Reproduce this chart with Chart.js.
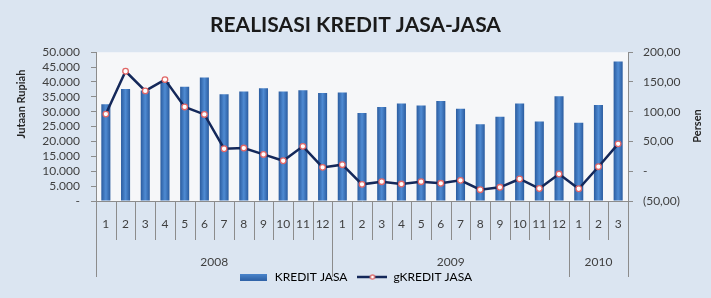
<!DOCTYPE html>
<html lang="id">
<head>
<meta charset="UTF-8">
<title>Realisasi Kredit Jasa-Jasa</title>
<script src="https://cdn.jsdelivr.net/npm/chart.js"></script>
<style>
  body { margin: 0; background: #dbe5f1; }
  canvas { display: block; }
</style>
</head>
<body>
<canvas id="grafik" width="711" height="298"></canvas>
<script>
  // data (perkiraan)
  const bulan = ['1','2','3','4','5','6','7','8','9','10','11','12',
                 '1','2','3','4','5','6','7','8','9','10','11','12',
                 '1','2','3'];
  const tahun = ['2008', '2009', '2010'];
  const jumlahBulan = [12, 12, 3];
  const kreditJasa = [32500, 37600, 37100, 40000, 38400, 41500, 35900, 36800, 37900, 36800, 37200, 36300,
                      36500, 29600, 31600, 32800, 32100, 33600, 31000, 25800, 28300, 32800, 26700, 35200,
                      26300, 32300, 46900];
  const gKreditJasa = [96, 168, 135, 154, 108, 95.5, 37.8, 39, 28.3, 17.6, 41.8, 6.5,
                       11, -22, -17.6, -21.5, -17.6, -20.3, -15.3, -31, -27, -13, -29, -4.7,
                       -29.4, 7.6, 46];

  const abu = '#8c8c8c';
  const teks = '#3f3f3f';

  function ribuan(v) {
    if (v === 0) return '-';
    return String(v).replace(/\B(?=(\d{3})+(?!\d))/g, '.');
  }
  function persen(v) {
    if (v === 0) return '-';
    const s = Math.abs(v).toFixed(2).replace('.', ',');
    return v < 0 ? '(' + s + ')' : s;
  }

  function ikonBatang() {
    const c = document.createElement('canvas');
    c.width = 27; c.height = 7;
    const g = c.getContext('2d');
    const gr = g.createLinearGradient(0, 0, 0, 7);
    gr.addColorStop(0, '#4d88cf');
    gr.addColorStop(1, '#2f62a6');
    g.fillStyle = gr;
    g.fillRect(0, 0, 27, 7);
    return c;
  }
  function ikonGaris() {
    const c = document.createElement('canvas');
    c.width = 30; c.height = 8;
    const g = c.getContext('2d');
    g.strokeStyle = '#14285a'; g.lineWidth = 2.5;
    g.beginPath(); g.moveTo(0, 4); g.lineTo(30, 4); g.stroke();
    g.fillStyle = '#ffffff'; g.strokeStyle = '#e06666'; g.lineWidth = 1.2;
    g.beginPath(); g.arc(15, 4, 2.2, 0, Math.PI * 2); g.fill(); g.stroke();
    return c;
  }

  // latar, sumbu x bertingkat (bulan / tahun) dan judul sumbu
  const sumbuBertingkat = {
    id: 'sumbuBertingkat',
    beforeDraw(chart) {
      const {ctx, chartArea: a} = chart;
      ctx.save();
      ctx.fillStyle = '#dbe5f1';
      ctx.fillRect(0, 0, chart.width, chart.height);
      ctx.fillStyle = '#f6f7f9';
      ctx.fillRect(a.left, a.top, a.right - a.left, a.bottom - a.top);
      ctx.restore();
    },
    afterDraw(chart) {
      const {ctx, chartArea: a, scales: {x}} = chart;
      const batas = [0];
      jumlahBulan.reduce((s, n) => { batas.push(s + n); return s + n; }, 0);

      ctx.save();
      ctx.strokeStyle = abu;
      ctx.lineWidth = 1;
      for (let i = 0; i <= bulan.length; i++) {
        const px = Math.round(x.getPixelForValue(i - 0.5)) + 0.5;
        const bawah = batas.includes(i) ? a.bottom + 76 : a.bottom + 39;
        ctx.beginPath();
        ctx.moveTo(px, a.bottom);
        ctx.lineTo(px, bawah);
        ctx.stroke();
      }

      ctx.font = '12px Lato';
      ctx.fillStyle = teks;
      ctx.textAlign = 'center';
      ctx.textBaseline = 'middle';
      bulan.forEach((b, i) => ctx.fillText(b, x.getPixelForValue(i), a.bottom + 23));
      tahun.forEach((t, k) => {
        const kiri = x.getPixelForValue(batas[k] - 0.5);
        const kanan = x.getPixelForValue(batas[k + 1] - 0.5);
        ctx.fillText(t, (kiri + kanan) / 2, a.bottom + 61);
      });

      ctx.font = 'bold 11px Lato';
      ctx.fillStyle = '#262626';
      ctx.translate(21, 104);
      ctx.rotate(-Math.PI / 2);
      ctx.fillText('Jutaan Rupiah', 0, 0);
      ctx.setTransform(1, 0, 0, 1, 0, 0);
      ctx.translate(697, 126);
      ctx.rotate(-Math.PI / 2);
      ctx.fillText('Persen', 0, 0);
      ctx.restore();
    }
  };

  const ctx = document.getElementById('grafik').getContext('2d');

  new Chart(ctx, {
    type: 'bar',
    data: {
      labels: bulan,
      datasets: [{
        type: 'bar',
        label: 'KREDIT JASA',
        data: kreditJasa,
        yAxisID: 'y',
        order: 1,
        barPercentage: 0.46,
        categoryPercentage: 1,
        backgroundColor: (c) => {
          const sx = c.chart.scales.x;
          if (!sx || c.dataIndex == null) return '#3b74bb';
          const cx = sx.getPixelForValue(c.dataIndex);
          const g = c.chart.ctx.createLinearGradient(cx - 4.5, 0, cx + 4.5, 0);
          g.addColorStop(0, '#2b5c9f');
          g.addColorStop(0.5, '#4f8bd3');
          g.addColorStop(1, '#2b5c9f');
          return g;
        }
      }, {
        type: 'line',
        label: 'gKREDIT JASA',
        data: gKreditJasa,
        yAxisID: 'y1',
        order: 0,
        borderColor: '#14285a',
        borderWidth: 2.5,
        tension: 0,
        pointRadius: 2.8,
        pointBackgroundColor: '#ffffff',
        pointBorderColor: '#e06666',
        pointBorderWidth: 1.3
      }]
    },
    options: {
      responsive: false,
      animation: false,
      layout: { padding: { top: 0, bottom: 5, left: 0, right: 0 } },
      plugins: {
        title: {
          display: true,
          text: 'REALISASI KREDIT JASA-JASA',
          color: '#1a1a1a',
          font: { family: 'Lato', size: 21, weight: 'bold' },
          padding: { top: 13, bottom: 14 }
        },
        legend: {
          position: 'bottom',
          labels: {
            usePointStyle: true,
            pointStyleWidth: 30,
            padding: 10,
            color: teks,
            font: { family: 'Lato', size: 12 },
            generateLabels: () => [
              { text: 'KREDIT JASA', pointStyle: ikonBatang(), datasetIndex: 0, hidden: false, lineWidth: 0 },
              { text: 'gKREDIT JASA', pointStyle: ikonGaris(), datasetIndex: 1, hidden: false, lineWidth: 0 }
            ]
          }
        },
        tooltip: { enabled: false }
      },
      scales: {
        x: {
          offset: true,
          grid: { display: false },
          border: { color: abu },
          ticks: { display: false },
          afterFit: (s) => { s.height = 60; }
        },
        y: {
          position: 'left',
          min: 0,
          max: 50000,
          afterFit: (s) => { s.width = 96; },
          grid: { drawOnChartArea: false, tickLength: 5, color: abu },
          border: { color: abu },
          ticks: {
            stepSize: 5000,
            autoSkip: false,
            padding: 11,
            color: teks,
            font: { family: 'Lato', size: 12 },
            callback: (v) => ribuan(v)
          }
        },
        y1: {
          position: 'right',
          min: -50,
          max: 200,
          afterFit: (s) => { s.width = 83; },
          grid: { drawOnChartArea: false, tickLength: 5, color: abu },
          border: { color: abu },
          ticks: {
            stepSize: 50,
            autoSkip: false,
            padding: 10,
            color: teks,
            font: { family: 'Lato', size: 12 },
            callback: (v) => persen(v)
          }
        }
      }
    },
    plugins: [sumbuBertingkat]
  });
</script>
</body>
</html>
